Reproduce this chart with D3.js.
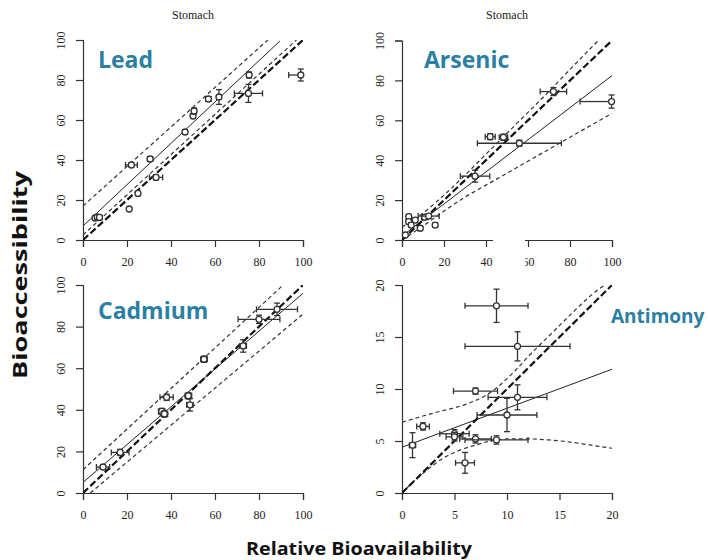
<!DOCTYPE html>
<html>
<head>
<meta charset="utf-8">
<script src="https://cdn.jsdelivr.net/npm/d3@7"></script>
<style>
  body { margin: 0; background: #fff; }
  svg .serif { font-family: "Liberation Serif", "DejaVu Serif", serif; font-size: 12px; fill: #222; }
  svg text.metal { font-family: "Open Sans", "Noto Sans", sans-serif; font-weight: 700; fill: #2a7fa3; }
  svg text.axis-title { font-family: "Open Sans", "Noto Sans", sans-serif; font-weight: 700; fill: #111; }
</style>
</head>
<body>
<div id="chart"></div>
<script>
// points: [x, y, xError, yError]
const leadPoints = [
  [5.5, 11, 1, 0.8], [6.5, 11.5, 1, 0.8], [7.5, 11.3, 1, 0.8], [21, 15.5, 0.5, 0.5],
  [22, 37.5, 2.7, 1], [25, 23.3, 0.8, 0.8], [30.5, 40.5, 1.2, 1], [33.2, 31.3, 3, 1.2],
  [46.4, 54, 1, 1], [50, 62, 1, 1], [50.5, 64.5, 1, 1.5], [57, 70.5, 1.2, 1],
  [61.8, 71.5, 1, 3.7], [75.2, 73.3, 6.4, 4.5], [75.5, 82.5, 1, 1.5], [99, 82.5, 5.5, 3]
];
const arsenicPoints = [
  [1.6, 2.5, 0.5, 0.5], [3.2, 11.7, 1, 1], [3.2, 9.2, 1, 1], [4.4, 7.5, 1, 1],
  [6.3, 10, 1, 1], [8.7, 5.9, 1, 1], [10.8, 11.4, 1.5, 1], [12.7, 12, 5, 1],
  [15.8, 7.5, 1, 0.8], [34.8, 32, 7, 3], [42, 51.8, 2.4, 1.5], [48.3, 51.5, 2, 1.5],
  [55.9, 48.5, 20, 1.5], [72.1, 74.4, 6.3, 2], [99.8, 69.4, 15, 3.3]
];
const cadmiumPoints = [
  [9.1, 12.5, 3, 1], [16.9, 19.5, 4, 1.5], [35.8, 39.2, 1.5, 1.5], [37, 38, 1.5, 1.5],
  [38, 46, 3, 1.5], [47.9, 46.7, 1.5, 1.5], [48.6, 42.4, 1.5, 3], [55, 64.3, 1.5, 1.5],
  [72.8, 70.7, 1.5, 3], [80, 83.5, 9.5, 2], [88.2, 88.3, 9.3, 3]
];
const antimonyPoints = [
  [1, 4.6, 0.3, 1.2], [2, 6.4, 0.6, 0.35], [5, 5.7, 1.4, 0.4], [5, 5.4, 0.8, 0.4],
  [6, 2.9, 0.9, 1], [7, 9.8, 2.1, 0.3], [7, 5.2, 1.5, 0.4], [9, 5.1, 3, 0.4],
  [9, 18, 3, 1.6], [11, 14.1, 5, 1.4], [11, 9.2, 2.8, 1.2], [10, 7.5, 2.85, 1.6]
];

// lines: [x, y] vertices
const leadFit = [[0, 7], [89.5, 99.5]];
const leadUpper = [[0, 17], [84, 100]];
const leadLower = [[0, 2.5], [97, 100]];
const arsenicFit = [[0, 2], [100, 82.4]];
const arsenicUpper = [[0, 6.5], [10, 13.5], [20, 22.5], [30, 32.5], [40, 43], [50, 53.5], [60, 64], [70, 74.5], [80, 85.5], [93.5, 100]];
const arsenicLower = [[0, 0], [10, 7], [20, 14.5], [30, 21.5], [40, 27.5], [50, 33.5], [60, 39.5], [70, 45.5], [80, 51.5], [90, 57.5], [100, 63.5]];
const cadmiumFit = [[0, 5.1], [100, 96]];
const cadmiumUpper = [[0, 11.2], [91, 100]];
const cadmiumLower = [[3.3, 0], [100, 86]];
const antimonyFit = [[0, 4.4], [20, 11.9]];
const antimonyUpper = [[0, 6.8], [2, 7.4], [4, 7.95], [5, 8.2], [6, 8.5], [7, 8.9], [8, 9.4], [9, 10.1], [10, 11], [11, 12], [12, 13.1], [14, 15.1], [16, 17.1], [18, 19], [20, 20.5]];
const antimonyLower = [[0, 0], [1, 1], [2, 1.9], [3, 2.7], [4, 3.4], [5, 3.9], [6, 4.3], [7, 4.6], [8, 4.9], [9, 5.1], [10, 5.2], [12, 5.2], [14, 5.1], [16, 4.9], [18, 4.6], [20, 4.3]];

const ticks100 = [0, 20, 40, 60, 80, 100];
const ticks20 = [0, 5, 10, 15, 20];

const width = 708, height = 560;
const svg = d3.select("#chart").append("svg")
  .attr("width", width).attr("height", height);

function drawPanel(p, idx) {
  const x = d3.scaleLinear().domain([0, p.max]).range(p.xr);
  const y = d3.scaleLinear().domain([0, p.max]).range(p.yr);
  const g = svg.append("g");

  g.append("clipPath").attr("id", "clip" + idx)
    .append("rect")
    .attr("x", p.xr[0]).attr("y", p.yr[1])
    .attr("width", p.xr[1] - p.xr[0]).attr("height", p.yr[0] - p.yr[1]);

  // axes, R style
  const xAxis = g.append("g").attr("transform", `translate(0,${p.yr[0]})`)
    .call(d3.axisBottom(x).tickValues(p.ticks).tickSize(7).tickPadding(10));
  const yAxis = g.append("g").attr("transform", `translate(${p.xr[0]},0)`)
    .call(d3.axisLeft(y).tickValues(p.ticks).tickSize(7).tickPadding(10));
  [xAxis, yAxis].forEach(a => {
    a.attr("font-size", null).attr("font-family", null);
    a.select(".domain").attr("stroke", "#333").attr("stroke-width", 1.2);
    a.selectAll(".tick line").attr("stroke", "#333").attr("stroke-width", 1.2);
    a.selectAll(".tick text").classed("serif", true).attr("fill", null);
  });
  // rotated y labels
  yAxis.selectAll(".tick text")
    .attr("text-anchor", "middle")
    .attr("x", 0).attr("y", -22).attr("dy", "0.35em")
    .attr("transform", "rotate(-90)");

  const line = d3.line().x(d => x(d[0])).y(d => y(d[1]));
  const curve = d3.line().x(d => x(d[0])).y(d => y(d[1])).curve(d3.curveMonotoneX);
  const lines = g.append("g").attr("clip-path", `url(#clip${idx})`).attr("fill", "none");

  lines.append("path").attr("d", curve(p.upper))
    .attr("stroke", "#333").attr("stroke-width", 1.2).attr("stroke-dasharray", "4,3");
  lines.append("path").attr("d", curve(p.lower))
    .attr("stroke", "#333").attr("stroke-width", 1.2).attr("stroke-dasharray", "4,3");
  lines.append("path").attr("d", line(p.fit))
    .attr("stroke", "#222").attr("stroke-width", 1);
  lines.append("path").attr("d", line([[0, 0], [p.max, p.max]]))
    .attr("stroke", "#111").attr("stroke-width", 2.2).attr("stroke-dasharray", "7,3");

  // error bars and points
  const clamp = v => Math.max(0, Math.min(p.max, v));
  const cap = 3;
  const pts = g.append("g").attr("stroke", "#333").attr("stroke-width", 1.3).attr("fill", "none");
  p.points.forEach(d => {
    const [px, py, xe, ye] = d;
    const x0 = clamp(px - xe), x1 = clamp(px + xe);
    const y0 = clamp(py - ye), y1 = clamp(py + ye);
    pts.append("line").attr("x1", x(x0)).attr("x2", x(x1)).attr("y1", y(py)).attr("y2", y(py));
    pts.append("line").attr("x1", x(px)).attr("x2", x(px)).attr("y1", y(y0)).attr("y2", y(y1));
    if (x0 === px - xe) pts.append("line").attr("x1", x(x0)).attr("x2", x(x0)).attr("y1", y(py) - cap).attr("y2", y(py) + cap);
    if (x1 === px + xe) pts.append("line").attr("x1", x(x1)).attr("x2", x(x1)).attr("y1", y(py) - cap).attr("y2", y(py) + cap);
    pts.append("line").attr("x1", x(px) - cap).attr("x2", x(px) + cap).attr("y1", y(y0)).attr("y2", y(y0));
    pts.append("line").attr("x1", x(px) - cap).attr("x2", x(px) + cap).attr("y1", y(y1)).attr("y2", y(y1));
    pts.append("circle").attr("cx", x(px)).attr("cy", y(py)).attr("r", 3).attr("fill", "#fff");
  });

  if (p.title) {
    g.append("text").attr("class", "serif")
      .attr("x", (p.xr[0] + p.xr[1]) / 2).attr("y", 19)
      .attr("text-anchor", "middle").text(p.title);
  }
  g.append("text").attr("class", "metal")
    .attr("x", p.label[0]).attr("y", p.label[1])
    .attr("font-size", p.label[2]).text(p.name);
}

const panels = [
  { name: "Lead", max: 100, ticks: ticks100, xr: [83, 303], yr: [240, 40], points: leadPoints,
    fit: leadFit, upper: leadUpper, lower: leadLower, title: "Stomach", label: [98, 68, 23] },
  { name: "Arsenic", max: 100, ticks: ticks100, xr: [402, 612], yr: [240, 40.5], points: arsenicPoints,
    fit: arsenicFit, upper: arsenicUpper, lower: arsenicLower, title: "Stomach", label: [424, 68, 23] },
  { name: "Cadmium", max: 100, ticks: ticks100, xr: [83, 303], yr: [493, 285], points: cadmiumPoints,
    fit: cadmiumFit, upper: cadmiumUpper, lower: cadmiumLower, label: [98, 319, 23] },
  { name: "Antimony", max: 20, ticks: ticks20, xr: [402, 612], yr: [493, 285], points: antimonyPoints,
    fit: antimonyFit, upper: antimonyUpper, lower: antimonyLower, label: [611, 323, 19] }
];
panels.forEach(drawPanel);

// white patch over the arsenic x axis, as in the source figure
svg.append("rect").attr("x", 493).attr("y", 234).attr("width", 32).attr("height", 34).attr("fill", "#fff");

svg.append("text").attr("class", "axis-title")
  .attr("transform", "translate(27,275) rotate(-90)")
  .attr("text-anchor", "middle").attr("font-size", 19)
  .attr("textLength", 208).attr("lengthAdjust", "spacingAndGlyphs")
  .text("Bioaccessibility");
svg.append("text").attr("class", "axis-title")
  .attr("x", 359).attr("y", 555)
  .attr("text-anchor", "middle").attr("font-size", 18)
  .attr("textLength", 226).attr("lengthAdjust", "spacingAndGlyphs")
  .text("Relative Bioavailability");
</script>
</body>
</html>
